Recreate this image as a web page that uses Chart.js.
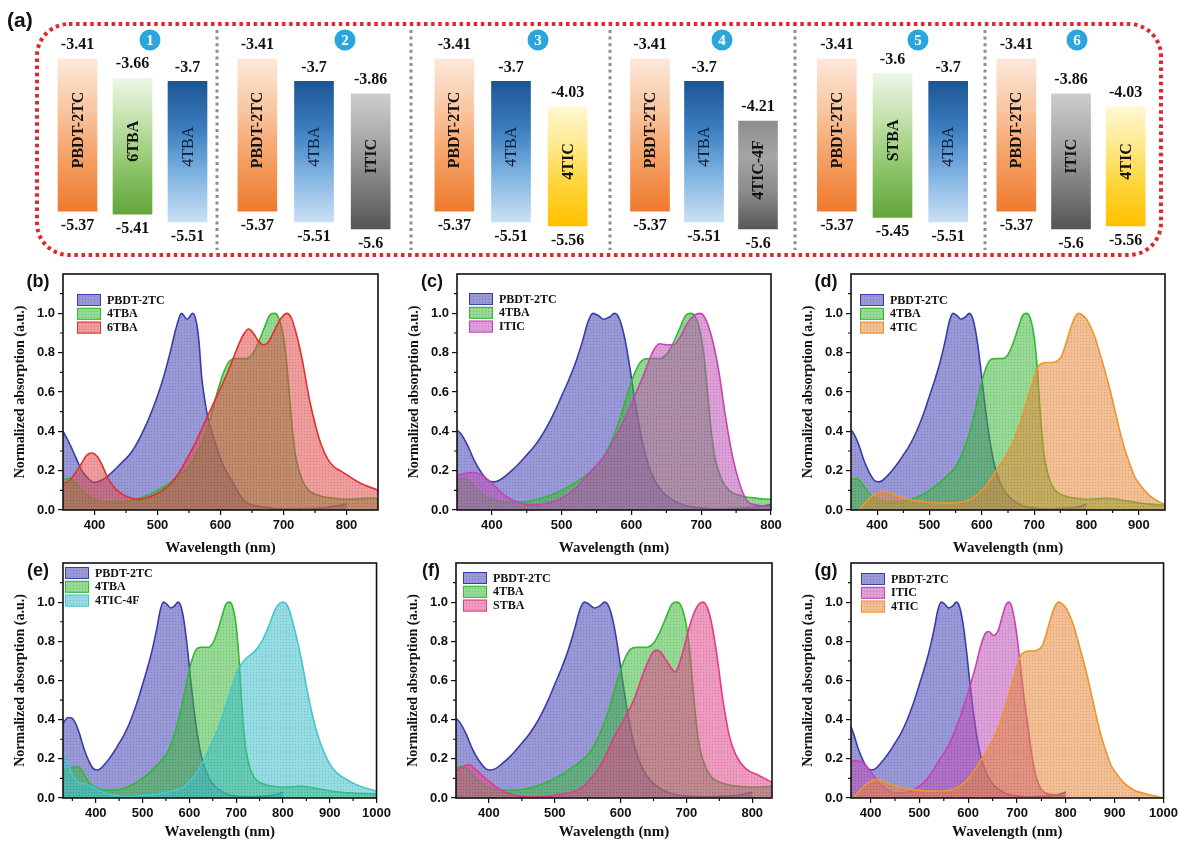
<!DOCTYPE html>
<html>
<head>
<meta charset="utf-8">
<title>Energy levels and absorption spectra</title>
<script src="https://cdn.jsdelivr.net/npm/chart.js@4.4.1/dist/chart.umd.min.js"></script>
<style>
  html, body { margin: 0; padding: 0; background: #fff; overflow: hidden; }
  #stage { position: relative; width: 1178px; height: 841px; }
  .holder { position: absolute; }
  #frame { position: absolute; left: 0; top: 0; }
</style>
</head>
<body>
<div id="stage"><canvas id="frame" width="1178" height="270"></canvas></div>
<script>
// ---- panel (a): frontier energy levels (eV)
const levelNames = ["PBDT-2TC", "6TBA", "4TBA", "ITIC", "4TIC", "4TIC-4F", "STBA"];
const lumoLevels = [-3.41, -3.66, -3.7, -3.86, -4.03, -4.21, -3.6];
const homoLevels = [-5.37, -5.41, -5.51, -5.6, -5.56, -5.6, -5.45];
const groupMembers = [
  ["PBDT-2TC", "6TBA", "4TBA"],
  ["PBDT-2TC", "4TBA", "ITIC"],
  ["PBDT-2TC", "4TBA", "4TIC"],
  ["PBDT-2TC", "4TBA", "4TIC-4F"],
  ["PBDT-2TC", "STBA", "4TBA"],
  ["PBDT-2TC", "ITIC", "4TIC"],
];
const groupBadges = ["1", "2", "3", "4", "5", "6"];

// ---- panels (b)-(g): normalized absorption spectra
const pbdtWl = [330, 340, 347, 355, 365, 375, 385, 395, 402, 410, 420, 430, 440, 450, 460, 470, 480, 490, 500, 510, 520, 530, 538, 545, 552, 560, 568, 576, 583, 590, 597, 603, 610, 618, 626, 635, 645, 655, 665, 680, 700, 730, 760, 780, 800];
const pbdtAbs = [0.38, 0.41, 0.41, 0.39, 0.33, 0.25, 0.19, 0.15, 0.143, 0.15, 0.175, 0.205, 0.24, 0.28, 0.32, 0.37, 0.43, 0.50, 0.58, 0.66, 0.75, 0.86, 0.96, 1.0, 0.99, 0.97, 0.98, 1.0, 0.97, 0.88, 0.74, 0.60, 0.45, 0.31, 0.21, 0.14, 0.09, 0.06, 0.04, 0.02, 0.01, 0.005, 0.01, 0.015, 0.03];
// PBDT-2TC as drawn in panel (b)
const pbdtBWl = [350, 360, 370, 380, 390, 400, 410, 420, 440, 460, 480, 500, 510, 520, 530, 538, 547, 556, 562, 566, 570, 575, 580, 590, 600, 610, 620, 630, 640, 660, 700, 760, 800];
const pbdtBAbs = [0.40, 0.34, 0.27, 0.20, 0.16, 0.14, 0.15, 0.17, 0.23, 0.30, 0.42, 0.58, 0.68, 0.80, 0.93, 1.0, 0.97, 1.0, 0.95, 0.85, 0.68, 0.56, 0.47, 0.36, 0.26, 0.19, 0.14, 0.08, 0.04, 0.02, 0.005, 0.01, 0.03];
const tba4Wl = [330, 340, 350, 360, 370, 380, 390, 400, 420, 440, 460, 480, 500, 520, 540, 550, 560, 575, 585, 595, 605, 615, 625, 640, 650, 660, 670, 678, 685, 692, 700, 705, 710, 715, 720, 730, 740, 760, 780, 800, 840, 880, 920, 950, 1000];
const tba4Abs = [0.13, 0.15, 0.155, 0.16, 0.14, 0.10, 0.07, 0.055, 0.04, 0.04, 0.05, 0.07, 0.10, 0.14, 0.19, 0.22, 0.27, 0.38, 0.48, 0.60, 0.70, 0.76, 0.77, 0.77, 0.79, 0.85, 0.93, 0.99, 1.0, 0.98, 0.88, 0.75, 0.56, 0.38, 0.26, 0.15, 0.10, 0.07, 0.06, 0.055, 0.06, 0.045, 0.03, 0.025, 0.02];
const tba6Wl = [350, 360, 370, 380, 388, 396, 405, 412, 420, 430, 440, 450, 460, 470, 480, 490, 500, 510, 520, 530, 540, 550, 560, 570, 580, 590, 600, 610, 620, 630, 638, 645, 652, 660, 668, 675, 685, 695, 705, 712, 720, 730, 740, 750, 760, 770, 780, 790, 800, 820, 850];
const tba6Abs = [0.135, 0.15, 0.19, 0.24, 0.28, 0.29, 0.27, 0.23, 0.17, 0.12, 0.09, 0.07, 0.06, 0.055, 0.06, 0.07, 0.085, 0.105, 0.13, 0.17, 0.22, 0.28, 0.34, 0.41, 0.48, 0.55, 0.62, 0.69, 0.77, 0.85, 0.90, 0.92, 0.90, 0.86, 0.84, 0.85, 0.91, 0.97, 1.0, 0.98, 0.90, 0.76, 0.58, 0.44, 0.33, 0.26, 0.22, 0.20, 0.18, 0.14, 0.10];
const iticWl = [350, 370, 385, 400, 420, 440, 460, 480, 500, 520, 540, 560, 580, 600, 620, 630, 640, 650, 660, 670, 680, 690, 698, 705, 715, 725, 735, 745, 755, 765, 780, 800];
const iticAbs = [0.175, 0.19, 0.18, 0.135, 0.07, 0.035, 0.025, 0.035, 0.06, 0.11, 0.19, 0.27, 0.39, 0.54, 0.71, 0.80, 0.845, 0.84, 0.84, 0.88, 0.95, 0.99, 1.0, 0.98, 0.88, 0.71, 0.47, 0.27, 0.135, 0.05, 0.025, 0.017];
// ITIC as drawn in panel (g)
const iticGWl = [360, 372, 385, 400, 420, 440, 460, 480, 500, 520, 540, 560, 580, 600, 615, 625, 635, 642, 652, 662, 670, 678, 684, 690, 698, 704, 712, 721, 728, 735, 748, 765, 785, 800];
const iticGAbs = [0.19, 0.19, 0.18, 0.135, 0.07, 0.035, 0.025, 0.035, 0.06, 0.11, 0.19, 0.27, 0.39, 0.54, 0.67, 0.77, 0.84, 0.85, 0.83, 0.86, 0.93, 0.99, 1.0, 0.97, 0.86, 0.74, 0.56, 0.39, 0.26, 0.15, 0.05, 0.02, 0.015, 0.012];
const tic4Wl = [365, 375, 390, 400, 412, 425, 440, 460, 480, 500, 520, 540, 560, 575, 590, 600, 610, 625, 640, 651, 660, 670, 680, 689, 696, 702, 708, 715, 725, 735, 745, 752, 760, 768, 776, 785, 793, 800, 808, 816, 825, 835, 845, 854, 863, 873, 882, 892, 902, 911, 920, 930, 940, 950, 965, 980, 1000];
const tic4Abs = [0.0, 0.03, 0.07, 0.085, 0.095, 0.085, 0.07, 0.055, 0.045, 0.04, 0.035, 0.035, 0.04, 0.05, 0.075, 0.10, 0.13, 0.19, 0.25, 0.30, 0.35, 0.42, 0.50, 0.58, 0.64, 0.69, 0.73, 0.745, 0.75, 0.75, 0.76, 0.78, 0.84, 0.91, 0.97, 1.0, 0.99, 0.97, 0.93, 0.88, 0.80, 0.71, 0.61, 0.51, 0.41, 0.31, 0.24, 0.17, 0.13, 0.10, 0.075, 0.055, 0.04, 0.03, 0.02, 0.012, 0.0];
const tic4fWl = [330, 340, 350, 360, 380, 400, 420, 440, 470, 500, 530, 560, 590, 610, 630, 650, 670, 690, 705, 720, 740, 755, 770, 785, 800, 812, 825, 840, 855, 872, 890, 907, 925, 943, 965, 985, 1000];
const tic4fAbs = [0.24, 0.18, 0.12, 0.085, 0.07, 0.05, 0.025, 0.014, 0.008, 0.014, 0.02, 0.034, 0.06, 0.11, 0.19, 0.29, 0.41, 0.56, 0.66, 0.71, 0.75, 0.80, 0.88, 0.97, 1.0, 0.97, 0.86, 0.70, 0.51, 0.34, 0.22, 0.15, 0.11, 0.085, 0.06, 0.045, 0.035];
const stbaWl = [350, 360, 370, 380, 400, 420, 440, 460, 480, 500, 520, 540, 560, 575, 590, 605, 620, 635, 648, 655, 662, 670, 683, 695, 705, 715, 725, 735, 745, 755, 765, 775, 790, 810, 830];
const stbaAbs = [0.135, 0.16, 0.17, 0.145, 0.085, 0.037, 0.014, 0.005, 0.005, 0.014, 0.025, 0.05, 0.12, 0.20, 0.31, 0.40, 0.50, 0.64, 0.74, 0.755, 0.74, 0.70, 0.645, 0.75, 0.88, 0.97, 1.0, 0.94, 0.76, 0.51, 0.32, 0.22, 0.15, 0.115, 0.08];

const panelTags = ["(b)", "(c)", "(d)", "(e)", "(f)", "(g)"];
const panelSpectra = [
  ["pbdtB", "tba4", "tba6"],
  ["pbdt", "tba4", "itic"],
  ["pbdt", "tba4", "tic4"],
  ["pbdt", "tba4", "tic4f"],
  ["pbdt", "tba4", "stba"],
  ["pbdt", "iticG", "tic4"],
];
const panelXMin = [350, 350, 350, 330, 350, 360];
const panelXMax = [850, 800, 950, 1000, 830, 1000];
const xMajor = [300, 400, 500, 600, 700, 800, 900, 1000];
const xMinor = [350, 450, 550, 650, 750, 850, 950];
const yMajor = [0, 0.2, 0.4, 0.6, 0.8, 1.0];
const yMinor = [0.1, 0.3, 0.5, 0.7, 0.9, 1.1];

// ---- styles and layout
const serif = "'Liberation Serif', 'Times New Roman', serif";
const sans = "'Liberation Sans', Arial, sans-serif";

const purple = { line: "#3c3ca8", fill: "rgba(90,90,192,0.62)", dot: "rgba(40,40,120,0.25)" };
const magenta = { line: "#c545b5", fill: "rgba(192,80,184,0.55)", dot: "rgba(110,30,100,0.25)" };
const spectra = {
  pbdt: { label: "PBDT-2TC", wl: pbdtWl, abs: pbdtAbs, ...purple },
  pbdtB: { label: "PBDT-2TC", wl: pbdtBWl, abs: pbdtBAbs, ...purple },
  tba4: { label: "4TBA", wl: tba4Wl, abs: tba4Abs, line: "#34b834", fill: "rgba(62,186,62,0.55)", dot: "rgba(20,110,20,0.25)" },
  tba6: { label: "6TBA", wl: tba6Wl, abs: tba6Abs, line: "#e2302f", fill: "rgba(226,74,74,0.55)", dot: "rgba(140,30,30,0.25)" },
  itic: { label: "ITIC", wl: iticWl, abs: iticAbs, ...magenta },
  iticG: { label: "ITIC", wl: iticGWl, abs: iticGAbs, ...magenta },
  tic4: { label: "4TIC", wl: tic4Wl, abs: tic4Abs, line: "#f0942c", fill: "rgba(232,136,58,0.55)", dot: "rgba(140,70,20,0.25)" },
  tic4f: { label: "4TIC-4F", wl: tic4fWl, abs: tic4fAbs, line: "#45c6cf", fill: "rgba(64,192,204,0.55)", dot: "rgba(20,110,120,0.25)" },
  stba: { label: "STBA", wl: stbaWl, abs: stbaAbs, line: "#e43a88", fill: "rgba(224,72,138,0.55)", dot: "rgba(130,20,70,0.25)" },
};

const barShades = {
  "PBDT-2TC": ["#fde8db", "#f9c6a1", "#f59e62", "#ef7a2c"],
  "6TBA": ["#edf6e6", "#bfe0a8", "#8cc468", "#62a63a"],
  "STBA": ["#edf6e6", "#bfe0a8", "#8cc468", "#62a63a"],
  "4TBA": ["#1d5593", "#3a7dbf", "#80b3e0", "#c9e0f5"],
  "ITIC": ["#cdcdcd", "#aaaaaa", "#7f7f7f", "#555555"],
  "4TIC": ["#fff7d2", "#ffe88a", "#ffd435", "#ffc000"],
  "4TIC-4F": ["#8e8e8e", "#a5a5a5", "#8a8a8a", "#585858"],
};

const groupBoxes = [
  { left: 50, w: 165 }, { left: 229, w: 170 }, { left: 426, w: 170 },
  { left: 623, w: 162 }, { left: 809, w: 167 }, { left: 989, w: 164 },
];
const badgeX = [150, 345, 538, 722, 918, 1077];
const dividerX = [217, 411, 610, 795, 985];

const panelBoxes = [
  { left: 63, top: 274, w: 315, h: 236, foot: 50 }, { left: 457, top: 274, w: 314, h: 236, foot: 50 }, { left: 851, top: 274, w: 314, h: 236, foot: 50 },
  { left: 63, top: 563, w: 315, h: 235, foot: 46 }, { left: 456, top: 563, w: 316, h: 235, foot: 46 }, { left: 851, top: 563, w: 314, h: 235, foot: 46 },
];
const legendAt = [[14, 26], [12, 25], [9, 26], [2, 10], [7, 15], [10, 16]];

Chart.defaults.font.family = sans;
Chart.defaults.color = "#111";

const stage = document.getElementById("stage");

function addCanvas(left, top, w, h) {
  const holder = document.createElement("div");
  holder.className = "holder";
  Object.assign(holder.style, { left: left + "px", top: top + "px", width: w + "px", height: h + "px" });
  const canvas = document.createElement("canvas");
  holder.appendChild(canvas);
  stage.appendChild(holder);
  return canvas;
}

function stipple(base, dot) {
  const tile = document.createElement("canvas");
  tile.width = tile.height = 3;
  const t = tile.getContext("2d");
  t.fillStyle = base;
  t.fillRect(0, 0, 3, 3);
  t.fillStyle = dot;
  t.fillRect(1, 1, 1, 1);
  return t.createPattern(tile, "repeat");
}

function roundedBox(ctx, x, y, w, h, r) {
  ctx.beginPath();
  ctx.moveTo(x + r, y);
  ctx.lineTo(x + w - r, y);
  ctx.arcTo(x + w, y, x + w, y + r, r);
  ctx.lineTo(x + w, y + h - r);
  ctx.arcTo(x + w, y + h, x + w - r, y + h, r);
  ctx.lineTo(x + r, y + h);
  ctx.arcTo(x, y + h, x, y + h - r, r);
  ctx.lineTo(x, y + r);
  ctx.arcTo(x, y, x + r, y, r);
  ctx.closePath();
}

function drawFrame() {
  const ctx = document.getElementById("frame").getContext("2d");
  ctx.fillStyle = "#111";
  ctx.font = `bold 21px ${sans}`;
  ctx.textBaseline = "middle";
  ctx.fillText("(a)", 7, 21);
  ctx.strokeStyle = "#e2262b";
  ctx.lineWidth = 4;
  ctx.setLineDash([3.5, 3.6]);
  roundedBox(ctx, 37, 24, 1124, 231, 32);
  ctx.stroke();
  ctx.strokeStyle = "#8d8d8d";
  ctx.lineWidth = 3;
  ctx.setLineDash([3, 3.6]);
  dividerX.forEach((x) => {
    ctx.beginPath();
    ctx.moveTo(x, 30);
    ctx.lineTo(x, 250);
    ctx.stroke();
  });
}

function barFill(c, rows) {
  const chart = c.chart;
  if (c.type !== "data" || !chart.chartArea) return "#ddd";
  const k = rows[c.dataIndex];
  const y = chart.scales.y;
  const top = y.getPixelForValue(lumoLevels[k]);
  const bot = y.getPixelForValue(homoLevels[k]);
  const stops = barShades[levelNames[k]];
  const grad = chart.ctx.createLinearGradient(0, top, 0, bot);
  stops.forEach((col, i) => grad.addColorStop(i / (stops.length - 1), col));
  return grad;
}

function levelChart(g) {
  const box = groupBoxes[g];
  const canvas = addCanvas(box.left, 22, box.w, 236);
  const names = groupMembers[g];
  const rows = names.map((n) => levelNames.indexOf(n));

  new Chart(canvas, {
    type: "bar",
    data: {
      labels: names,
      datasets: [{
        data: rows.map((k) => [homoLevels[k], lumoLevels[k]]),
        backgroundColor: (c) => barFill(c, rows),
        barThickness: 39,
        borderWidth: 0,
      }],
    },
    options: {
      animation: false,
      responsive: true,
      maintainAspectRatio: false,
      events: [],
      layout: { padding: { top: 5, bottom: 13.5, left: 0, right: 0 } },
      scales: {
        x: { display: false },
        y: { display: false, min: -5.8, max: -3.0 },
      },
      plugins: { legend: { display: false }, tooltip: { enabled: false } },
    },
    plugins: [{
      id: "levelText",
      afterDatasetsDraw(chart) {
        const ctx = chart.ctx;
        const y = chart.scales.y;
        ctx.save();
        ctx.textAlign = "center";
        ctx.textBaseline = "middle";
        chart.getDatasetMeta(0).data.forEach((bar, j) => {
          const k = rows[j];
          const top = y.getPixelForValue(lumoLevels[k]);
          const bot = y.getPixelForValue(homoLevels[k]);
          ctx.fillStyle = "#111";
          ctx.font = `bold 16px ${serif}`;
          ctx.fillText(String(lumoLevels[k]), bar.x, top - 14);
          ctx.fillText(String(homoLevels[k]), bar.x, bot + 15);
          const thin = levelNames[k] === "4TBA";
          ctx.save();
          ctx.translate(bar.x, (top + bot) / 2 - 5);
          ctx.rotate(-Math.PI / 2);
          ctx.font = `${thin ? "normal" : "bold"} 16px ${serif}`;
          ctx.fillStyle = thin ? "#0c1c36" : "#111";
          ctx.fillText(levelNames[k], 0, 1);
          ctx.restore();
        });
        // numbered badge
        const bx = badgeX[g] - box.left;
        const by = 18;
        ctx.beginPath();
        ctx.arc(bx, by, 10.5, 0, Math.PI * 2);
        ctx.fillStyle = "#2ba6dd";
        ctx.fill();
        ctx.fillStyle = "#fff";
        ctx.font = `bold 15px ${serif}`;
        ctx.fillText(groupBadges[g], bx, by + 1);
        ctx.restore();
      },
    }],
  });
}

function panelDecor(i) {
  return {
    id: "panelDecor",
    afterDraw(chart) {
      const { ctx, chartArea: a } = chart;
      const x = chart.scales.x;
      const y = chart.scales.y;
      ctx.save();
      ctx.strokeStyle = "#111";
      ctx.lineWidth = 1.2;
      ctx.beginPath();
      xMinor.filter((v) => v > x.min && v < x.max).forEach((v) => {
        const px = x.getPixelForValue(v);
        ctx.moveTo(px, a.bottom);
        ctx.lineTo(px, a.bottom + 3);
      });
      yMinor.forEach((v) => {
        const py = y.getPixelForValue(v);
        ctx.moveTo(a.left - 3, py);
        ctx.lineTo(a.left, py);
      });
      ctx.stroke();
      ctx.lineWidth = 1.6;
      ctx.strokeRect(a.left, a.top, a.right - a.left, a.bottom - a.top);

      ctx.fillStyle = "#111";
      ctx.font = `bold 18px ${sans}`;
      ctx.textAlign = "center";
      ctx.textBaseline = "middle";
      ctx.fillText(panelTags[i], a.left - 25, a.top + 8);

      // legend inside the plot, top left
      const [lx, ly] = legendAt[i];
      chart.data.datasets.forEach((ds, k) => {
        const cy = a.top + ly + k * 13.8;
        const bx = a.left + lx;
        ctx.fillStyle = ds.backgroundColor;
        ctx.fillRect(bx, cy - 6, 24, 12);
        ctx.strokeStyle = ds.borderColor;
        ctx.lineWidth = 1;
        ctx.strokeRect(bx + 0.5, cy - 5.5, 23, 11);
        ctx.fillStyle = "#111";
        ctx.font = `bold 12px ${serif}`;
        ctx.textAlign = "left";
        ctx.fillText(ds.label, bx + 30, cy + 0.5);
      });
      ctx.restore();
    },
  };
}

function spectrumChart(i) {
  const box = panelBoxes[i];
  const padL = 54, padT = 12, padR = 16, padB = box.foot;
  const canvas = addCanvas(box.left - padL, box.top - padT, box.w + padL + padR, box.h + padT + padB);
  const keys = panelSpectra[i];
  const xMin = panelXMin[i];
  const xMax = panelXMax[i];

  new Chart(canvas, {
    type: "line",
    data: {
      datasets: keys.map((key, k) => {
        const s = spectra[key];
        return {
          label: s.label,
          data: s.wl.map((w, j) => ({ x: w, y: s.abs[j] })),
          borderColor: s.line,
          backgroundColor: stipple(s.fill, s.dot),
          borderWidth: 1.6,
          pointRadius: 0,
          fill: "origin",
          cubicInterpolationMode: "monotone",
          order: keys.length - k,
        };
      }),
    },
    options: {
      animation: false,
      responsive: true,
      maintainAspectRatio: false,
      events: [],
      layout: { padding: { top: padT, right: padR, left: 0, bottom: 0 } },
      scales: {
        x: {
          type: "linear",
          min: xMin,
          max: xMax,
          afterBuildTicks: (s) => {
            s.ticks = xMajor.filter((v) => v >= xMin && v <= xMax).map((v) => ({ value: v }));
          },
          afterFit: (s) => { s.height = padB; },
          ticks: {
            autoSkip: false,
            maxRotation: 0,
            padding: 3,
            color: "#111",
            font: { family: sans, weight: "bold", size: 13 },
            callback: (v) => String(v),
          },
          grid: { drawOnChartArea: false, drawTicks: true, tickLength: 5, color: "#111", lineWidth: 1.2 },
          border: { display: false },
          title: {
            display: true,
            text: "Wavelength (nm)",
            color: "#111",
            font: { family: serif, weight: "bold", size: 15 },
            padding: { top: 2, bottom: 3 },
          },
        },
        y: {
          min: 0,
          max: 1.2,
          afterBuildTicks: (s) => { s.ticks = yMajor.map((v) => ({ value: v })); },
          afterFit: (s) => { s.width = padL; },
          ticks: {
            padding: 3,
            color: "#111",
            font: { family: sans, weight: "bold", size: 13 },
            callback: (v) => Number(v).toFixed(1),
          },
          grid: { drawOnChartArea: false, drawTicks: true, tickLength: 5, color: "#111", lineWidth: 1.2 },
          border: { display: false },
          title: {
            display: true,
            text: "Normalized absorption (a.u.)",
            color: "#111",
            font: { family: serif, weight: "bold", size: 14 },
            padding: { top: 3, bottom: 3 },
          },
        },
      },
      plugins: { legend: { display: false }, tooltip: { enabled: false } },
    },
    plugins: [panelDecor(i)],
  });
}

drawFrame();
groupMembers.forEach((_, g) => levelChart(g));
panelTags.forEach((_, i) => spectrumChart(i));
</script>
</body>
</html>
